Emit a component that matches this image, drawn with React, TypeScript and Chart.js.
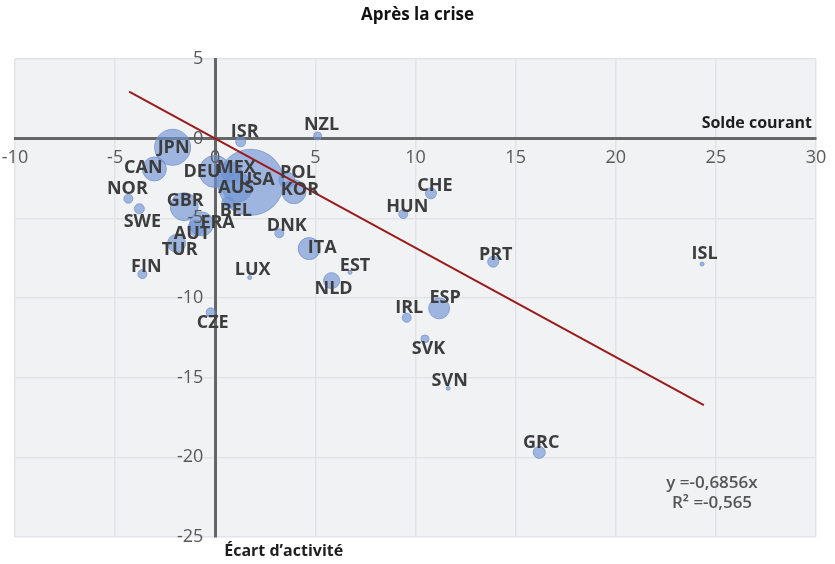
import React, { useEffect, useRef } from 'react';
import { Chart, registerables } from 'chart.js';

Chart.register(...registerables);

const TITLE = 'Après la crise';
const X_TITLE = 'Solde courant';
const Y_TITLE = 'Écart d\u2019activité';
const EQUATION = ['y =-0,6856x', 'R² =-0,565'];

const countries = ['USA', 'JPN', 'DEU', 'MEX', 'AUS', 'GBR', 'FRA', 'CAN', 'ITA', 'KOR', 'ESP', 'TUR', 'POL', 'NLD', 'AUT', 'BEL', 'ISR', 'NZL', 'NOR', 'SWE', 'FIN', 'LUX', 'DNK', 'EST', 'HUN', 'CHE', 'PRT', 'ISL', 'CZE', 'IRL', 'SVK', 'SVN', 'GRC'];
const activityGap = [1.77, -2.13, -0.01, 0.8, 1.1, -1.55, -0.68, -3.04, 4.69, 3.93, 11.18, -1.93, 3.58, 5.81, -0.96, 0.63, 1.27, 5.11, -4.34, -3.79, -3.64, 1.72, 3.2, 6.73, 9.39, 10.77, 13.88, 24.31, -0.23, 9.56, 10.47, 11.63, 16.18];
const currentBalance = [-2.74, -0.54, -2.06, -2.1, -3.05, -4.27, -5.35, -1.9, -6.9, -3.33, -10.65, -6.57, -2.6, -8.91, -5.6, -4.03, -0.2, 0.17, -3.77, -4.4, -8.5, -8.72, -5.94, -8.39, -4.73, -3.43, -7.72, -7.87, -10.9, -11.24, -12.57, -15.67, -19.69];
const bubbleSize = [33, 18, 16, 10, 15, 14, 12, 12, 11, 12, 10.5, 9, 8, 8, 8, 6, 5, 4, 4.5, 5, 4.5, 2, 4.5, 2, 4.5, 5.5, 5.5, 2, 4.5, 4.5, 4, 2, 6];

const trendX = [-4.3, 24.4];
const trendY = [2.95, -16.72];

// label placement (pixel offsets from bubble centre)
const LABEL_OFFSETS: Record<string, [number, number]> = {
  USA: [6, -2], JPN: [1, 1], DEU: [-13, 0], MEX: [5, -4], AUS: [-1, 1], GBR: [1, -6], FRA: [16, -1],
  CAN: [-11, -1], ITA: [13, -1], KOR: [6, -2], ESP: [6, -10], TUR: [3, 7], POL: [11, -7], NLD: [2, 8],
  AUT: [-4, 6], BEL: [8, 8], ISR: [4, -10], NZL: [4, -11], NOR: [-1, -10], SWE: [3, 13], FIN: [4, -7],
  LUX: [3, -8], DNK: [7.5, -7.5], EST: [5, -6], HUN: [4, -7], CHE: [4, -7], PRT: [2.5, -7], ISL: [2.5, -10],
  CZE: [2, 11], IRL: [2.5, -9.5], SVK: [3.5, 10], SVN: [1.5, -7.5], GRC: [2, -10],
};

const FONT = '"Open Sans", "Noto Sans", sans-serif';

const bgPlugin = {
  id: 'plotBg',
  beforeDraw(chart: any) {
    const { ctx, chartArea } = chart;
    ctx.save();
    ctx.fillStyle = '#f1f2f4';
    ctx.fillRect(chartArea.left, chartArea.top, chartArea.right - chartArea.left, chartArea.bottom - chartArea.top);
    ctx.restore();
  },
};

const textPlugin = {
  id: 'texts',
  afterDatasetsDraw(chart: any) {
    const { ctx, chartArea, scales } = chart;
    const meta = chart.getDatasetMeta(1);
    ctx.save();
    ctx.font = `bold 18px ${FONT}`;
    ctx.fillStyle = '#3d3d3d';
    ctx.textAlign = 'center';
    ctx.textBaseline = 'middle';
    meta.data.forEach((el: any, i: number) => {
      const [dx, dy] = LABEL_OFFSETS[countries[i]] || [0, 0];
      ctx.fillText(countries[i], el.x + dx, el.y + dy);
    });
    // title
    ctx.font = `bold 17px ${FONT}`;
    ctx.fillStyle = '#111';
    ctx.fillText(TITLE, chart.width / 2, 15);
    // axis titles
    const zeroY = scales.y.getPixelForValue(0);
    const zeroX = scales.x.getPixelForValue(0);
    ctx.font = `bold 16px ${FONT}`;
    ctx.fillStyle = '#1e1e1e';
    ctx.textAlign = 'right';
    ctx.fillText(X_TITLE, chartArea.right - 4, zeroY - 15);
    ctx.textAlign = 'left';
    ctx.fillText(Y_TITLE, zeroX + 9, chartArea.bottom + 14);
    // equation
    ctx.font = `600 17px ${FONT}`;
    ctx.fillStyle = '#555';
    ctx.textAlign = 'center';
    ctx.fillText(EQUATION[0], chartArea.right - 104, 483);
    ctx.fillText(EQUATION[1], chartArea.right - 104, 503);
    ctx.restore();
  },
};

const noPad = (scale: any) => {
  scale.paddingLeft = 0;
  scale.paddingRight = 0;
  scale.paddingTop = 0;
  scale.paddingBottom = 0;
};

export default function App() {
  const ref = useRef<HTMLCanvasElement | null>(null);
  useEffect(() => {
    if (!ref.current) return;
    const chart = new Chart(ref.current, {
      type: 'bubble',
      data: {
        datasets: [
          {
            type: 'line',
            data: trendX.map((x, i) => ({ x, y: trendY[i] })),
            borderColor: '#9b1b1b',
            borderWidth: 2,
            pointRadius: 0,
            fill: false,
            order: 0,
          } as any,
          {
            type: 'bubble',
            data: countries.map((c, i) => ({ x: activityGap[i], y: currentBalance[i], r: bubbleSize[i] })),
            backgroundColor: 'rgba(110,145,210,0.63)',
            borderColor: 'rgba(115,145,205,0.75)',
            borderWidth: 1,
            order: 1,
          },
        ],
      },
      options: {
        animation: false,
        responsive: false,
        maintainAspectRatio: false,
        layout: { autoPadding: false, padding: { left: 15, right: 19, top: 59, bottom: 27 } },
        plugins: { legend: { display: false }, tooltip: { enabled: false }, title: { display: false } },
        scales: {
          x: {
            type: 'linear',
            min: -10,
            max: 30,
            position: { y: 0 } as any,
            afterFit: noPad,
            ticks: { stepSize: 5, color: '#595959', font: { family: FONT, size: 18 }, padding: 8, maxRotation: 0, z: 1 },
            grid: { color: '#e2e3e6', lineWidth: 1.5, drawTicks: false },
            border: { color: '#666666', width: 3 },
          },
          y: {
            type: 'linear',
            min: -25,
            max: 5,
            position: { x: 0 } as any,
            afterFit: noPad,
            ticks: {
              stepSize: 5,
              color: '#595959',
              font: { family: FONT, size: 18 },
              padding: 3,
              z: 1,
              callback: (v: any) => `${v}\u2002\u2009`,
            },
            grid: { color: '#e2e3e6', lineWidth: 1.5, drawTicks: false },
            border: { color: '#666666', width: 3 },
          },
        },
      },
      plugins: [bgPlugin, textPlugin],
    });
    return () => chart.destroy();
  }, []);
  return (
    <div style={{ position: 'fixed', left: 0, top: 0, width: 835, height: 564, background: '#fff' }}>
      <canvas ref={ref} width={835} height={564} style={{ width: 835, height: 564, display: 'block' }} />
    </div>
  );
}
